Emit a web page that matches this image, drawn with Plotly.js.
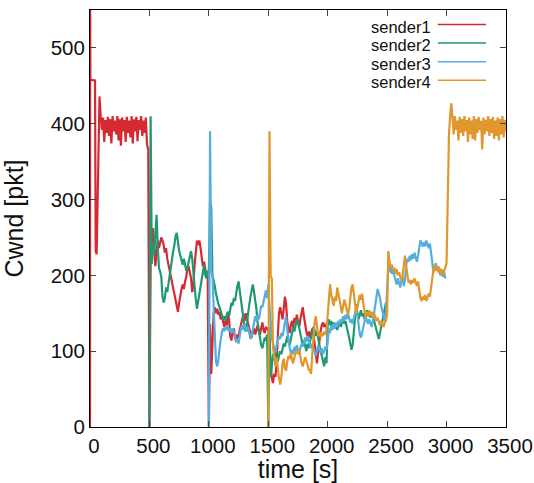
<!DOCTYPE html>
<html>
<head>
<meta charset="utf-8">
<script src="https://cdn.plot.ly/plotly-3.0.1.min.js"></script>
<style>html,body{margin:0;padding:0;background:#fff;}#chart{width:534px;height:483px;}</style>
</head>
<body>
<div id="chart"></div>
<script>
// ---- data (time in s, cwnd in pkt) ----
const seriesNames = ["sender1", "sender2", "sender3", "sender4"];
const seriesColors = ["#d62a32", "#1f9a70", "#56aede", "#e0982e"];

// sender1: start-up points, then 10 s samples from t=90
const s1HeadT = [0, 1, 3, 42, 48, 56, 80];
const s1HeadV = [0, 620, 458, 457, 232, 228, 436];
const s1Start = 90;
const s1V = [
  410, 392, 408, 376, 405, 388, 409, 384, 406, 374,
  410, 390, 404, 386, 410, 378, 406, 371, 408, 390,
  405, 376, 409, 388, 404, 382, 410, 374, 406, 390,
  409, 377, 405, 392, 410, 384, 404, 388, 408, 372,
  366,
  0,
  212, 255, 262, 240, 212, 230, 246, 236, 244, 250,
  246, 240, 230, 236, 222, 214, 206, 198, 192, 182,
  174, 166, 158, 152, 164, 176, 182, 188, 182, 192,
  198, 210, 212, 204, 196, 178, 188, 214, 236, 246,
  240, 246, 236, 224, 212, 218, 206, 200, 204,
  0,
  136, 70, 110, 150, 158, 150, 156, 148, 152, 142,
  146, 138, 132, 140, 134, 148, 142, 120, 114, 124,
  130, 118, 112, 122, 118, 128, 136, 142, 148, 140,
  150, 142, 136, 128, 122, 118, 126, 130, 122, 128,
  134, 126, 122, 130, 138, 128, 124, 132, 130,
  128, 100, 80, 64, 58, 70, 66, 84, 120, 150,
  158, 150, 142, 156, 172, 162, 138, 130, 124, 134,
  140, 132, 144, 138, 148, 140, 132, 142, 150, 158,
  146, 132, 126, 120, 126, 118, 124, 130, 122, 110,
  92, 84, 100, 118, 126, 134, 138, 132, 136, 130
];

// sender2: 10 s samples from t=500
const s2Start = 500;
const s2V = [
  0, 410, 215, 240, 228, 262, 280, 238, 210, 205,
  198, 172, 164, 170, 184, 178, 190, 200, 212, 224,
  232, 240, 252, 256, 240, 232, 226, 218, 214, 222,
  212, 206, 210, 218, 226, 232, 222, 200, 180, 168,
  156, 166, 176, 184, 192, 206, 214, 200, 196, 206,
  204, 298, 290, 200, 194, 186, 176, 168, 162, 158,
  152, 148, 142, 146, 140, 148, 152, 146, 156, 164,
  160, 170, 166, 178, 186, 192, 180, 162, 150, 142,
  132, 126, 134, 150, 164, 172, 180, 188, 178, 168,
  156, 138, 126, 116, 108, 104, 112, 118, 114, 122,
  0, 132, 66, 84, 96, 88, 100, 92, 86, 94,
  100, 96, 104, 110, 106, 114, 120, 112, 108, 116,
  124, 132, 126, 136, 142, 138, 130, 120, 112, 108,
  114, 106, 100, 110, 104, 112, 118, 124, 132, 128,
  120, 126, 116, 108, 100, 94, 88, 80, 92, 84,
  136, 142, 134, 140, 132, 138, 130, 136, 128, 134,
  140, 132, 138, 144, 136, 140, 132, 126, 118, 110,
  102, 108, 124, 146, 162, 150, 142, 148, 154, 146,
  150, 142, 148, 154, 146, 152, 144, 150, 146, 140,
  136, 128, 122, 116, 124, 132, 140, 148, 158, 164
];

// sender3: 10 s samples from t=1000
const s3Start = 1000;
const s3V = [
  0, 390, 204, 202, 160, 110, 86, 80, 88, 104,
  116, 126, 130, 126, 132, 128, 134, 126, 130, 124,
  130, 126, 120, 112, 116, 110, 122, 130, 134, 128,
  136, 130, 126, 132, 124, 116, 120, 130, 142, 146,
  140, 148, 142, 152, 160, 158, 166, 174, 180, 170,
  188, 160, 130, 118, 110, 104, 98, 108, 114, 120,
  116, 124, 120, 128, 138, 146, 128, 112, 104, 98,
  102, 96, 106, 100, 108, 102, 96, 104, 110, 106,
  114, 118, 112, 120, 114, 108, 104, 110, 102, 98,
  94, 100, 108, 102, 98, 104, 96, 100, 106, 102,
  112, 130, 124, 134, 128, 136, 130, 138, 132, 140,
  136, 142, 138, 146, 140, 148, 142, 150, 144, 138,
  142, 136, 144, 150, 156, 148, 132, 122, 118, 126,
  134, 140, 146, 140, 136, 142, 138, 132, 140, 150,
  164, 176, 182, 176, 170, 160, 152, 146, 140, 150,
  190, 212, 204, 210, 202, 208, 200, 194, 188, 196,
  190, 184, 192, 198, 186, 194, 214, 222, 218, 226,
  220, 228, 222, 230, 224, 218, 226, 238, 246, 242,
  238, 244, 238, 246, 240, 236, 242, 226, 212, 204,
  210, 216, 206, 212, 204, 200, 208, 198, 204, 196
];

// sender4: 10 s samples from t=1500 to 3500
const s4Start = 1500;
const s4V = [
  0, 390, 198, 196, 104, 88, 80, 92, 74, 64,
  56, 66, 84, 90, 78, 74, 86, 94, 90, 98,
  88, 84, 92, 98, 100, 96, 102, 92, 84, 80,
  86, 92, 88, 82, 76, 74, 70, 96, 124, 138,
  146, 132, 120, 126, 118, 124, 120, 126, 122, 128,
  150, 176, 188, 174, 166, 160, 172, 166, 184, 176,
  164, 156, 150, 160, 168, 162, 154, 148, 156, 170,
  184, 188, 172, 160, 150, 158, 166, 174, 168, 176,
  162, 150, 144, 152, 148, 154, 146, 152, 144, 150,
  146, 140, 144, 138, 134, 140, 136, 132, 138, 140,
  150, 232, 218, 210, 214, 206, 210, 202, 208, 200,
  204, 196, 192, 200, 218, 226, 212, 196, 190, 194,
  188, 194, 190, 196, 190, 186, 192, 180, 170, 166,
  172, 168, 174, 166, 170, 176, 172, 186, 200, 208,
  214, 206, 212, 204, 210, 202, 208, 200, 206, 212,
  216, 300, 385, 410, 427,
  408, 386, 410, 392, 404, 378, 409, 388, 406, 384,
  410, 390, 405, 376, 408, 386, 404, 380, 410, 378,
  406, 388, 409, 392, 404, 366, 408, 386, 405, 390,
  410, 384, 406, 388, 409, 380, 404, 384, 408, 378,
  406, 386, 410, 382, 405, 390
];
const sampleStep = 10;

const xTickVals = [0, 500, 1000, 1500, 2000, 2500, 3000, 3500];
const yTickVals = [0, 100, 200, 300, 400, 500];

// ---- build traces ----
function times(start, n) {
  const t = [];
  for (let i = 0; i < n; i++) t.push(start + sampleStep * i);
  return t;
}
const xs = [
  s1HeadT.concat(times(s1Start, s1V.length)),
  times(s2Start, s2V.length),
  times(s3Start, s3V.length),
  times(s4Start, s4V.length)
];
const ys = [s1HeadV.concat(s1V), s2V, s3V, s4V];

const traces = seriesNames.map((name, i) => ({
  type: 'scatter', mode: 'lines', name: name,
  x: xs[i], y: ys[i],
  line: {color: seriesColors[i], width: 2.2},
  hoverinfo: 'skip'
}));

// legend drawn gnuplot-style: text then line sample
const legTextY = [0.9604, 0.9158, 0.8712, 0.8266];
const legLineY = [0.9652, 0.9206, 0.8760, 0.8314];
const annotations = seriesNames.map((name, i) => ({
  xref: 'paper', yref: 'paper', x: 0.823, y: legTextY[i],
  xanchor: 'right', yanchor: 'middle', showarrow: false,
  borderpad: 0,
  text: name, font: {size: 16.5, color: '#111'}
}));
const shapes = seriesNames.map((name, i) => ({
  type: 'line', xref: 'paper', yref: 'paper',
  x0: 0.836, x1: 0.952, y0: legLineY[i], y1: legLineY[i],
  line: {color: seriesColors[i], width: 1.5}
}));

const axisCommon = {
  ticks: 'inside', ticklen: 6, tickwidth: 1, tickcolor: '#444',
  showline: true, linecolor: '#000', linewidth: 1, mirror: 'ticks',
  showgrid: false, zeroline: false,
  tickfont: {size: 20.5, color: '#111'}
};

const layout = {
  width: 534, height: 483,
  margin: {l: 90, r: 28, t: 10, b: 56, pad: 0},
  paper_bgcolor: '#fff', plot_bgcolor: '#fff',
  showlegend: false,
  font: {family: '"Liberation Sans", Arial, sans-serif', color: '#111'},
  xaxis: Object.assign({}, axisCommon, {
    range: [0, 3500], tickmode: 'array', tickvals: xTickVals,
    ticklabelshift: 4,
    title: {text: 'time [s]', font: {size: 25, color: '#111'}}
  }),
  yaxis: Object.assign({}, axisCommon, {
    range: [0, 550], tickmode: 'array', tickvals: yTickVals,
    title: {text: 'Cwnd [pkt]', font: {size: 25, color: '#111'}, standoff: 19}
  }),
  annotations: annotations,
  shapes: shapes
};

Plotly.newPlot('chart', traces, layout, {staticPlot: true, displayModeBar: false});
</script>
</body>
</html>
